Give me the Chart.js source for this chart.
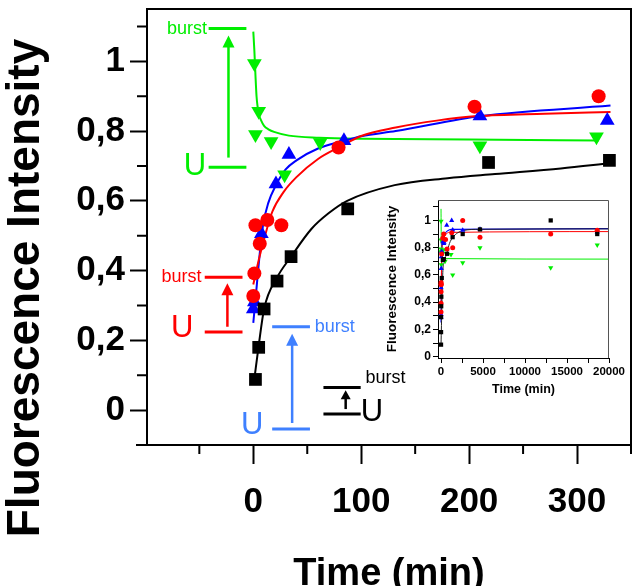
<!DOCTYPE html>
<html>
<head>
<meta charset="utf-8">
<script src="https://cdn.jsdelivr.net/npm/chart.js@4.4.1/dist/chart.umd.min.js"></script>
<style>
  html, body { margin: 0; padding: 0; background: #fff; }
  #wrap { position: relative; width: 640px; height: 586px; }
  #main { position: absolute; left: 0; top: 0; }
  #inset { position: absolute; left: 370px; top: 190px; }
  .probe { position: absolute; left: -999px; top: 0; font-family: 'Liberation Sans'; }
</style>
</head>
<body>
<div id="wrap">
  <canvas id="main" width="640" height="586"></canvas>
  <canvas id="inset" width="266" height="215"></canvas>
</div>
<span class="probe">burst U</span><span class="probe" style="font-weight:bold">Time 0,8</span>
<script>
// ---- main panel data (time in min, relative fluorescence) ----
const blackT = [2, 5, 10, 22, 35, 87.5, 218, 330];
const blackV = [0.088, 0.18, 0.29, 0.37, 0.44, 0.577, 0.71, 0.716];
const redT = [0, 1, 2, 6, 13, 26, 79, 205, 320];
const redV = [0.327, 0.392, 0.53, 0.477, 0.545, 0.53, 0.753, 0.87, 0.9];
const blueT = [0, 1, 7.5, 21, 33, 84, 210, 328];
const blueV = [0.29, 0.31, 0.506, 0.648, 0.733, 0.772, 0.843, 0.83];
const greenT = [1, 2, 5, 16.5, 29, 62, 210, 318];
const greenV = [0.994, 0.79, 0.857, 0.77, 0.675, 0.767, 0.758, 0.784];

// fitted curves
const blackFitT = [1, 5, 10, 22, 35, 54, 70, 87, 131, 180, 224, 285, 330];
const blackFitV = [0.09, 0.185, 0.29, 0.38, 0.44, 0.52, 0.565, 0.6, 0.645, 0.665, 0.677, 0.693, 0.708];
const redFitT = [0, 5, 10, 17.5, 28, 40, 60, 79, 100, 132, 170, 208, 270, 331];
const redFitV = [0.36, 0.43, 0.49, 0.568, 0.625, 0.668, 0.72, 0.753, 0.786, 0.81, 0.83, 0.843, 0.85, 0.855];
const blueFitT = [0, 3, 6, 9, 14, 21, 30, 40, 60, 84, 100, 132, 211, 331];
const blueFitV = [0.25, 0.35, 0.45, 0.53, 0.595, 0.645, 0.69, 0.716, 0.75, 0.772, 0.785, 0.8, 0.843, 0.873];
const greenFitT = [0, 1, 2, 3, 4, 5.5, 7, 10, 14, 20, 33, 61, 100, 200, 320];
const greenFitV = [1.085, 1.03, 0.96, 0.9, 0.87, 0.845, 0.832, 0.815, 0.805, 0.797, 0.787, 0.781, 0.778, 0.776, 0.773];

// burst / U markers: green, red, blue, black
const burstY = [1.094, 0.381, 0.239, 0.065];
const unfoldY = [0.696, 0.224, -0.054, -0.011];
const barFrom = [-41.4, -45, 17.5, 65];
const barTo = [-6.4, -10, 52.5, 99.5];
const arrowX = [-23, -24, 36, 85.6];
const arrowFrom = [0.724, 0.239, -0.037, 0.003];
const arrowTo = [1.074, 0.364, 0.219, 0.057];
const burstLabelX = [-43, -48, 57, 104];
const burstLabelY = [1.094, 0.381, 0.239, 0.091];
const uLabelX = [-54, -66, -1, 110];
const uLabelY = [0.7, 0.233, -0.043, -0.006];

// main axes
const xTicks = [0, 100, 200, 300];
const xMinor = [-50, 50, 150, 250, 350];
const yTicks = [0, 0.2, 0.4, 0.6, 0.8, 1];
const yTickLabels = ['0', '0,2', '0,4', '0,6', '0,8', '1'];
const yMinor = [0.1, 0.3, 0.5, 0.7, 0.9, 1.1];
const yTitle = 'Fluorescence Intensity';

// ---- inset: long time points (min) ----
const blackLongT = [720, 1380, 2580, 4640, 13060, 18600];
const blackLongV = [0.755, 0.877, 0.9, 0.934, 1.0, 0.9];
const redLongT = [540, 720, 1270, 1390, 2580, 4640, 13060, 18600];
const redLongV = [0.86, 0.79, 0.91, 0.8, 1.0, 0.877, 0.9, 0.928];
const blueLongT = [360, 680, 1270, 1390, 2580, 4640, 18600];
const blueLongV = [0.84, 0.965, 1.0, 0.93, 0.928, 0.935, 0.915];
const greenLongT = [480, 1190, 1390, 2580, 4640, 13060, 18600];
const greenLongV = [0.7, 0.75, 0.6, 0.69, 0.8, 0.652, 0.82];

const blackInsetFitT = [0, 200, 400, 700, 1000, 1400, 2000, 2600, 4600, 20000];
const blackInsetFitV = [0.09, 0.6, 0.7, 0.76, 0.83, 0.875, 0.91, 0.925, 0.935, 0.938];
const redInsetFitT = [0, 100, 300, 600, 1000, 20000];
const redInsetFitV = [0.36, 0.79, 0.87, 0.9, 0.912, 0.918];
const blueInsetFitT = [0, 100, 300, 500, 800, 1200, 20000];
const blueInsetFitV = [0.25, 0.79, 0.87, 0.905, 0.925, 0.935, 0.94];
const greenInsetFitT = [0, 30, 100, 250, 20000];
const greenInsetFitV = [1.085, 0.85, 0.76, 0.72, 0.716];

const insetXTicks = [0, 2500, 5000, 7500, 10000, 12500, 15000, 17500, 20000];
const insetYTicks = [0, 0.1, 0.2, 0.3, 0.4, 0.5, 0.6, 0.7, 0.8, 0.9, 1, 1.1];

const BLACK = '#000000';
const RED = '#ff0000';
const BLUE = '#0000ff';
const GREEN = '#00ee00';
const LBLUE = '#3f80ff';
const markColors = [GREEN, RED, LBLUE, BLACK];

const SANS = "'Liberation Sans', Arial, Helvetica, sans-serif";

const pts = (t, v) => t.map((x, i) => ({ x, y: v[i] }));

function markers(t, v, color, style, r, rot) {
  return {
    data: pts(t, v), showLine: false, pointStyle: style, pointRadius: r, pointRotation: rot || 0,
    backgroundColor: color, borderColor: color, borderWidth: 0, order: 1
  };
}
function fit(t, v, color, w) {
  return {
    data: pts(t, v), showLine: true, pointRadius: 0, borderColor: color, borderWidth: w,
    cubicInterpolationMode: 'monotone', fill: false, order: 2
  };
}
// keep the plot box where the figure has it, labels may overhang
function noPad(s) {
  s.paddingTop = 0; s.paddingBottom = 0; s.paddingLeft = 0; s.paddingRight = 0;
}

const decorations = {
  id: 'decorations',
  afterDraw(chart) {
    const { ctx, chartArea: a, scales: { x, y } } = chart;
    ctx.save();
    ctx.strokeStyle = '#000';
    ctx.lineWidth = 2;
    ctx.beginPath();
    ctx.moveTo(a.left - 11, a.bottom); ctx.lineTo(a.left, a.bottom);
    ctx.moveTo(a.left, a.top); ctx.lineTo(a.right, a.top); ctx.lineTo(a.right, a.bottom);
    xMinor.forEach(v => { const p = x.getPixelForValue(v); ctx.moveTo(p, a.bottom); ctx.lineTo(p, a.bottom + 9); });
    yMinor.forEach(v => { const p = y.getPixelForValue(v); ctx.moveTo(a.left - 10, p); ctx.lineTo(a.left, p); });
    ctx.stroke();

    // y title, centred lower than the axis midpoint as in the figure
    ctx.save();
    ctx.translate(26, 288);
    ctx.rotate(-Math.PI / 2);
    ctx.fillStyle = '#000';
    ctx.font = 'bold 46px ' + SANS;
    ctx.textAlign = 'center';
    ctx.textBaseline = 'middle';
    ctx.fillText(yTitle, 0, 0);
    ctx.restore();

    markColors.forEach((c, i) => {
      ctx.strokeStyle = c;
      ctx.fillStyle = c;
      const x1 = x.getPixelForValue(barFrom[i]), x2 = x.getPixelForValue(barTo[i]);
      ctx.lineWidth = 3;
      ctx.beginPath();
      [burstY[i], unfoldY[i]].forEach(v => {
        const p = y.getPixelForValue(v);
        ctx.moveTo(x1, p); ctx.lineTo(x2, p);
      });
      ctx.stroke();
      // arrow
      const ax = x.getPixelForValue(arrowX[i]);
      const y0 = y.getPixelForValue(arrowFrom[i]), y1 = y.getPixelForValue(arrowTo[i]);
      const head = i === 3 ? 9 : 12, hw = i === 3 ? 5 : 6;
      ctx.lineWidth = 2.5;
      ctx.beginPath();
      ctx.moveTo(ax, y0); ctx.lineTo(ax, y1 + head - 1);
      ctx.stroke();
      ctx.beginPath();
      ctx.moveTo(ax, y1); ctx.lineTo(ax - hw, y1 + head); ctx.lineTo(ax + hw, y1 + head);
      ctx.closePath();
      ctx.fill();
      // texts
      ctx.textBaseline = 'middle';
      ctx.font = '18px ' + SANS;
      ctx.textAlign = burstLabelX[i] < 0 ? 'right' : 'left';
      ctx.fillText('burst', x.getPixelForValue(burstLabelX[i]), y.getPixelForValue(burstLabelY[i]));
      ctx.font = '31px ' + SANS;
      ctx.textAlign = 'center';
      ctx.fillText('U', x.getPixelForValue(uLabelX[i]), y.getPixelForValue(uLabelY[i]));
    });
    ctx.restore();
  }
};

const insetFrame = {
  id: 'insetFrame',
  afterDraw(chart) {
    const { ctx, chartArea: a } = chart;
    ctx.save();
    ctx.strokeStyle = '#555';
    ctx.lineWidth = 1;
    ctx.beginPath();
    ctx.moveTo(a.left, a.top + 0.5); ctx.lineTo(a.right - 0.5, a.top + 0.5); ctx.lineTo(a.right - 0.5, a.bottom);
    ctx.stroke();
    ctx.restore();
  }
};

function draw() {
  new Chart(document.getElementById('main'), {
    type: 'scatter',
    data: {
      datasets: [
        markers(blackT, blackV, BLACK, 'rect', 9),
        markers(redT, redV, RED, 'circle', 7),
        markers(blueT, blueV, BLUE, 'triangle', 8.5),
        markers(greenT, greenV, GREEN, 'triangle', 8.5, 180),
        fit(blackFitT, blackFitV, BLACK, 2),
        fit(redFitT, redFitV, RED, 2),
        fit(blueFitT, blueFitV, BLUE, 2),
        fit(greenFitT, greenFitV, GREEN, 2)
      ]
    },
    options: {
      responsive: false,
      animation: false,
      devicePixelRatio: 1,
      layout: { padding: { top: 5, right: 6, left: 0, bottom: 0 } },
      plugins: { legend: { display: false }, tooltip: { enabled: false } },
      scales: {
        x: {
          type: 'linear', min: -98.5, max: 350,
          afterBuildTicks: s => { s.ticks = xTicks.map(v => ({ value: v })); },
          afterFit: s => { s.height = 141; noPad(s); },
          grid: { drawOnChartArea: false, tickLength: 19, tickWidth: 2, tickColor: '#000' },
          border: { color: '#000', width: 2 },
          ticks: { color: '#000', autoSkip: false, maxRotation: 0, padding: 17,
            font: { family: SANS, size: 35, weight: 'bold' }, callback: v => String(v) },
          title: { display: true, text: 'Time (min)', color: '#000',
            font: { family: SANS, size: 38, weight: 'bold', lineHeight: 1 }, padding: { top: 0, bottom: -8 } }
        },
        y: {
          type: 'linear', min: -0.1, max: 1.15,
          afterBuildTicks: s => { s.ticks = yTicks.map(v => ({ value: v })); },
          afterFit: s => { s.width = 147; noPad(s); },
          grid: { drawOnChartArea: false, tickLength: 17, tickWidth: 2, tickColor: '#000' },
          border: { color: '#000', width: 2 },
          ticks: { color: '#000', autoSkip: false, padding: 5,
            font: { family: SANS, size: 35, weight: 'bold' }, callback: (v, i) => yTickLabels[i] }
        }
      }
    },
    plugins: [decorations]
  });

  new Chart(document.getElementById('inset'), {
    type: 'scatter',
    data: {
      datasets: [
        markers(blackT.concat(blackLongT), blackV.concat(blackLongV), BLACK, 'rect', 3),
        markers(redT.concat(redLongT), redV.concat(redLongV), RED, 'circle', 2.5),
        markers(blueT.concat(blueLongT), blueV.concat(blueLongV), BLUE, 'triangle', 3),
        markers(greenT.concat(greenLongT), greenV.concat(greenLongV), GREEN, 'triangle', 3, 180),
        fit(blackInsetFitT, blackInsetFitV, '#222', 1),
        fit(redInsetFitT, redInsetFitV, RED, 1),
        fit(blueInsetFitT, blueInsetFitV, BLUE, 1.2),
        fit(greenInsetFitT, greenInsetFitV, GREEN, 1)
      ]
    },
    options: {
      responsive: false,
      animation: false,
      devicePixelRatio: 1,
      layout: { padding: { top: 10, right: 27, left: 0, bottom: 0 } },
      plugins: { legend: { display: false }, tooltip: { enabled: false } },
      scales: {
        x: {
          type: 'linear', min: -360, max: 20000,
          afterBuildTicks: s => { s.ticks = insetXTicks.map(v => ({ value: v })); },
          afterFit: s => { s.height = 47; noPad(s); },
          grid: { drawOnChartArea: false, tickLength: 5, tickWidth: 1, tickColor: '#000' },
          border: { color: '#000', width: 1 },
          ticks: { color: '#000', autoSkip: false, maxRotation: 0, padding: 2,
            font: { family: SANS, size: 11.5, weight: 'bold' }, callback: v => (v % 5000 === 0 ? String(v) : '') },
          title: { display: true, text: 'Time (min)', color: '#000',
            font: { family: SANS, size: 12.5, weight: 'bold' }, padding: { top: 0, bottom: 8 } }
        },
        y: {
          type: 'linear', min: -0.01, max: 1.15,
          afterBuildTicks: s => { s.ticks = insetYTicks.map(v => ({ value: v })); },
          afterFit: s => { s.width = 68; noPad(s); },
          grid: { drawOnChartArea: false, tickLength: 5, tickWidth: 1, tickColor: '#000' },
          border: { color: '#000', width: 1 },
          ticks: { color: '#000', autoSkip: false, padding: 2,
            font: { family: SANS, size: 12, weight: 'bold' },
            callback: (v, i) => (i % 2 === 0 ? yTickLabels[i / 2] : '') },
          title: { display: true, text: yTitle, color: '#000',
            font: { family: SANS, size: 13.5, weight: 'bold' }, padding: { top: 14, bottom: 0 } }
        }
      }
    },
    plugins: [insetFrame]
  });
}

Promise.all([
  document.fonts.load("bold 35px 'Liberation Sans'"),
  document.fonts.load("18px 'Liberation Sans'")
]).then(draw, draw);
</script>
</body>
</html>
